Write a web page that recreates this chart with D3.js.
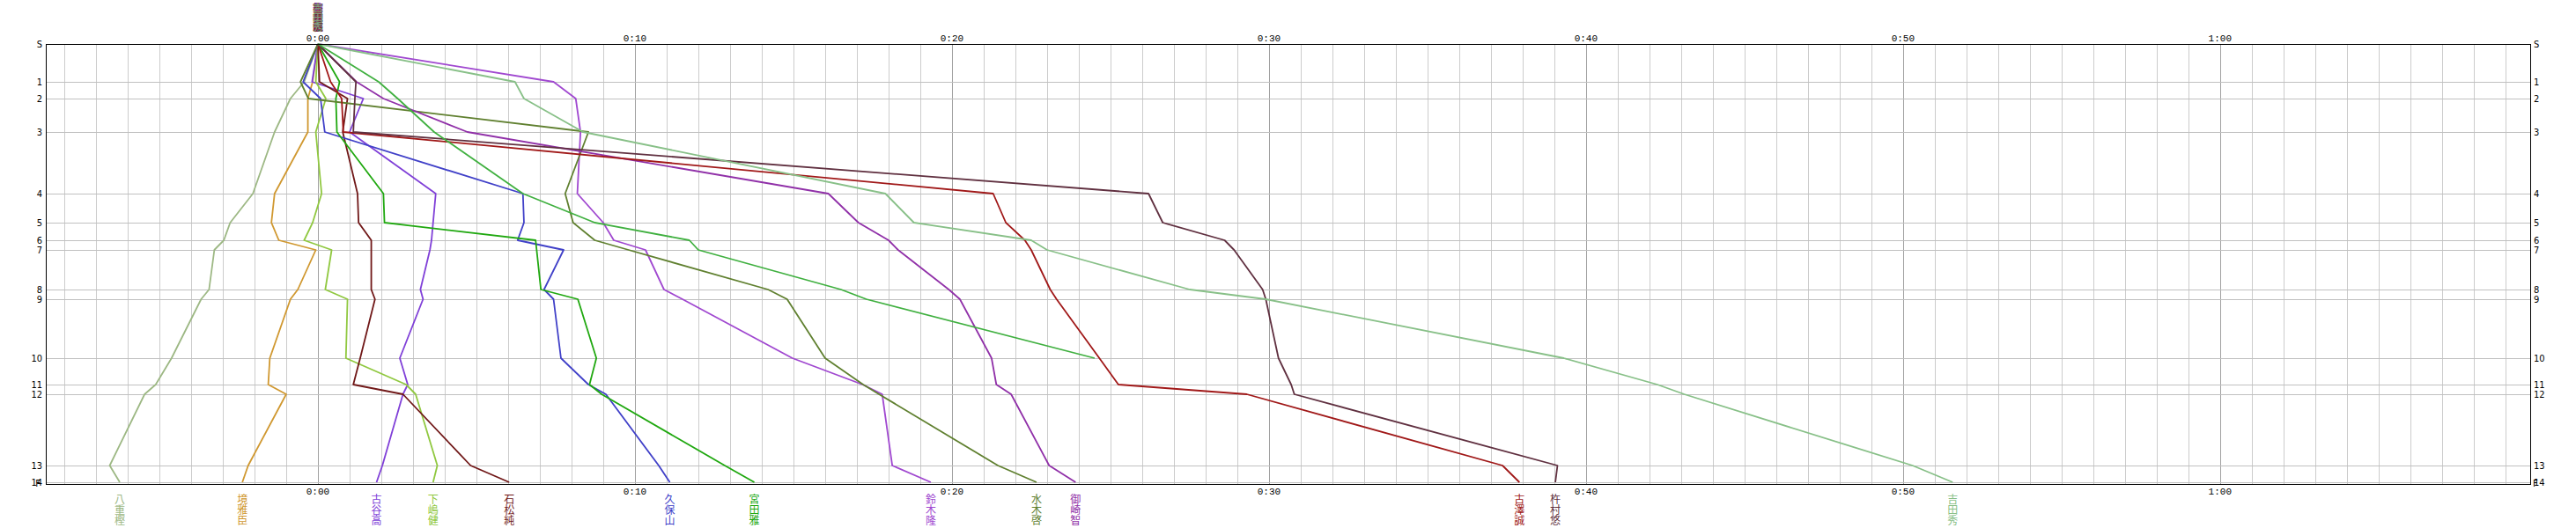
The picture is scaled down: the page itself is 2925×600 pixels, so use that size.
<!DOCTYPE html>
<html><head><meta charset="utf-8">
<script src="https://cdn.jsdelivr.net/npm/d3@7"></script>
<style>body{margin:0;background:#fff}svg{display:block}</style>
</head><body>
<svg id="c" width="2925" height="600"></svg>
<script>
// control labels and cumulative reference ("ideal") time in seconds
const controls = ["S","1","2","3","4","5","6","7","8","9","10","11","12","13","14"];
const refCum = [0,215,310,500,850,1015,1115,1170,1395,1450,1785,1935,1990,2395,2490];
// time axis labels (seconds behind reference)
const timeTicks = [0,600,1200,1800,2400,3000,3600];
const timeLabels = ["0:00","0:10","0:20","0:30","0:40","0:50","1:00"];

const names  = ["八重樫","境雅臣","古谷高","下嶋健","石松純","久保山","宮田雅","鈴木隆","水木啓","御崎智","古澤誠","杵村悠","吉田秀",""];
const colors = ["#9db884","#d09830","#8040d8","#90c840","#701818","#4040c8","#20a810","#a048d0","#608030","#9030a8","#a01818","#603040","#88c088","#40b040"];

// time behind reference at each control (seconds)
const yaegashi = [0,-26,-52,-82,-123,-166,-178,-196,-206,-221,-277,-307,-328,-394,-375];
const sakai    = [0,-10,-19,-19,-82,-88,-74,-4,-38,-52,-91,-94,-60,-132,-143];
const furuya   = [0,-11,86,60,223,218,215,212,194,199,155,170,161,122,111];
const shimo    = [0,-4,15,-4,7,-10,-26,26,14,56,53,167,185,226,218];
const ishimatsu= [0,3,56,47,75,77,101,101,101,108,80,67,161,289,362];
const kubo     = [0,-28,5,13,388,390,378,465,428,446,460,512,545,645,666];
const miyata   = [0,41,34,36,124,126,412,414,422,492,527,514,537,770,826];
const suzuki   = [0,446,488,497,491,540,560,620,655,690,898,1031,1068,1087,1160];
const mizuki   = [0,-33,-18,512,468,483,524,588,852,888,960,1032,1062,1287,1360];
const misaki   = [0,73,124,283,966,1023,1080,1098,1194,1215,1275,1284,1312,1384,1434];
const furusawa = [0,24,45,48,1278,1302,1338,1350,1386,1398,1479,1515,1758,2242,2274];
const kinemura = [0,72,70,67,1572,1599,1716,1734,1788,1794,1818,1842,1848,2346,2342];
const yoshida  = [0,373,390,502,1074,1128,1350,1380,1650,1794,2358,2535,2586,3018,3094];
const dnf      = [0,115,151,220,388,524,703,720,990,1038,1470];
const series = [yaegashi,sakai,furuya,shimo,ishimatsu,kubo,miyata,suzuki,mizuki,misaki,furusawa,kinemura,yoshida,dnf];

const svg = d3.select("#c");
const x = d3.scaleLinear().domain([-515, 4187]).range([52, 2873]);
const y = d3.scaleLinear().domain([0, 2500]).range([50, 550]);
const [x0,x1] = x.range(), [y0,y1] = y.range();

// vertical grid: every minute
const minutes = d3.range(Math.ceil(x.domain()[0]/60), Math.floor(x.domain()[1]/60)+1);
svg.append("g").selectAll("line").data(minutes).join("line")
  .attr("x1", m=>Math.round(x(m*60))+0.5).attr("x2", m=>Math.round(x(m*60))+0.5)
  .attr("y1", y0).attr("y2", y1)
  .attr("stroke", m=> m%10===0 ? "#a0a0a0" : "#cccccc").attr("stroke-width",1);
// horizontal grid at controls
svg.append("g").selectAll("line").data(refCum).join("line")
  .attr("x1", x0).attr("x2", x1)
  .attr("y1", d=>Math.round(y(d))+0.5).attr("y2", d=>Math.round(y(d))+0.5)
  .attr("stroke","#c0c0c0").attr("stroke-width",1);

// runner lines
svg.append("g").selectAll("path").data(series).join("path")
  .attr("d", d=>d3.line().x(v=>x(v)).y((v,i)=>y(refCum[i]))(d))
  .attr("fill","none").attr("stroke",(d,i)=>colors[i]).attr("stroke-width",1.8)
  .attr("stroke-linejoin","round");

// frame
svg.append("rect").attr("x",x0+0.5).attr("y",y0+0.5).attr("width",x1-x0).attr("height",y1-y0)
  .attr("fill","none").attr("stroke","#000").attr("stroke-width",1);

// time labels top & bottom
const tf = "'Liberation Mono','DejaVu Sans Mono',monospace";
[47,562].forEach(yy=>{
  svg.append("g").selectAll("text").data(timeTicks).join("text")
    .attr("x", d=>x(d)).attr("y", yy).attr("text-anchor","middle")
    .attr("font-family",tf).attr("font-size",11).attr("fill","#000")
    .text((d,i)=>timeLabels[i]);
});

// control labels left & right
const cf = "'Liberation Sans Narrow','DejaVu Sans Condensed','Liberation Sans',sans-serif";
svg.append("g").selectAll("text").data(refCum).join("text")
  .attr("x", x0-4).attr("y", d=>y(d)+4).attr("text-anchor","end")
  .attr("font-family",cf).attr("font-size",11).text((d,i)=>controls[i]);
svg.append("g").selectAll("text").data(refCum).join("text")
  .attr("x", x1+4).attr("y", d=>y(d)+4).attr("text-anchor","start")
  .attr("font-family",cf).attr("font-size",11).text((d,i)=>controls[i]);
// finish mark "F" drawn over the last control label, as in the original
svg.append("text").attr("x",x0-6).attr("y",y(refCum[14])+5).attr("text-anchor","end")
  .attr("font-family",cf).attr("font-size",11).text("F");
svg.append("text").attr("x",x1+3).attr("y",y(refCum[14])+5).attr("text-anchor","start")
  .attr("font-family",cf).attr("font-size",11).text("F");

// runner names (vertical) at finish, and stacked at the start
const jf = "'Noto Sans CJK JP','Noto Sans CJK SC',sans-serif";
series.forEach((s,i)=>{
  if (s.length !== refCum.length || !names[i]) return;
  const g = svg.append("g");
  Array.from(names[i]).forEach((ch,k)=>{
    g.append("text").attr("x", x(s[s.length-1])).attr("y", 572 + k*11.8)
      .attr("text-anchor","middle").attr("font-family",jf).attr("font-size",12)
      .attr("fill",colors[i]).text(ch);
  });
  const g2 = svg.append("g");
  Array.from(names[i]).forEach((ch,k)=>{
    g2.append("text").attr("x", x(0)).attr("y", 12.5 + k*11)
      .attr("text-anchor","middle").attr("font-family",jf).attr("font-size",11.5)
      .attr("fill",colors[i]).attr("opacity",0.85).text(ch);
  });
});
</script>
</body></html>
